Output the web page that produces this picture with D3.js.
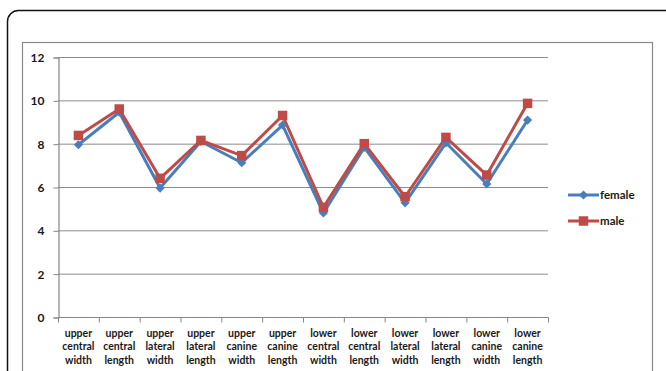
<!DOCTYPE html>
<html>
<head>
<meta charset="utf-8">
<script src="https://cdn.jsdelivr.net/npm/d3@7"></script>
<style>
  html, body { margin: 0; padding: 0; background: #fff; }
  svg { display: block; }
  text { font-family: Lato, "Open Sans", sans-serif; font-weight: bold; fill: #1a1a1a; }
</style>
</head>
<body>
<svg id="chart" width="666" height="371"></svg>
<script>
// Tooth dimension categories (three-line labels)
const categories = [
  ["upper", "central", "width"],
  ["upper", "central", "length"],
  ["upper", "lateral", "width"],
  ["upper", "lateral", "length"],
  ["upper", "canine", "width"],
  ["upper", "canine", "length"],
  ["lower", "central", "width"],
  ["lower", "central", "length"],
  ["lower", "lateral", "width"],
  ["lower", "lateral", "length"],
  ["lower", "canine", "width"],
  ["lower", "canine", "length"]
];
const female = [7.95, 9.45, 5.95, 8.1, 7.12, 8.86, 4.8, 7.83, 5.27, 8.04, 6.14, 9.09];
const male   = [8.38, 9.6, 6.4, 8.15, 7.45, 9.3, 5.06, 8.0, 5.55, 8.29, 6.55, 9.86];
const yTicks = [0, 2, 4, 6, 8, 10, 12];
const seriesNames = ["female", "male"];

const svg = d3.select("#chart");

// Outer rounded panel and inner chart frame
svg.append("rect")
  .attr("x", 7.5).attr("y", 10.5).attr("width", 670).attr("height", 400)
  .attr("rx", 11).attr("fill", "#fff").attr("stroke", "#111").attr("stroke-width", 1.5);
svg.append("rect")
  .attr("x", 22.5).attr("y", 42.5).attr("width", 630).attr("height", 360)
  .attr("fill", "#fff").attr("stroke", "#8a8a8a").attr("stroke-width", 1.2);

const plot = { left: 58, right: 548, top: 57, bottom: 317 };

const x = d3.scaleBand()
  .domain(d3.range(categories.length))
  .range([plot.left, plot.right])
  .paddingInner(0).paddingOuter(0);
const y = d3.scaleLinear().domain([0, 12]).range([plot.bottom, plot.top]);

// Horizontal gridlines
svg.append("g")
  .selectAll("line")
  .data(yTicks.filter(t => t > 0))
  .join("line")
  .attr("x1", plot.left).attr("x2", plot.right)
  .attr("y1", d => y(d) + 0.5).attr("y2", d => y(d) + 0.5)
  .attr("stroke", "#8c8c8c").attr("stroke-width", 1);

// Y axis
const yAxis = svg.append("g")
  .attr("transform", `translate(${plot.left + 0.5},0.5)`)
  .call(d3.axisLeft(y).tickValues(yTicks).tickSize(5).tickPadding(9).tickFormat(d3.format("d")));
yAxis.select(".domain").attr("stroke", "#868686").attr("stroke-width", 1.2);
yAxis.selectAll(".tick line").attr("stroke", "#868686");
yAxis.selectAll(".tick text").style("font-size", "12px").attr("fill", "#1a1a1a");

// X axis with tick marks at category boundaries
const xAxisG = svg.append("g").attr("transform", `translate(0,${plot.bottom + 0.5})`);
xAxisG.append("line")
  .attr("x1", plot.left).attr("x2", plot.right + 0.5)
  .attr("stroke", "#868686").attr("stroke-width", 1.2);
xAxisG.selectAll("line.tk")
  .data(d3.range(categories.length + 1))
  .join("line").attr("class", "tk")
  .attr("x1", i => (i < categories.length ? x(i) : plot.right) + 0.5)
  .attr("x2", i => (i < categories.length ? x(i) : plot.right) + 0.5)
  .attr("y1", 0).attr("y2", 5)
  .attr("stroke", "#868686");
const labels = xAxisG.selectAll("text.cat")
  .data(categories)
  .join("text").attr("class", "cat")
  .attr("text-anchor", "middle")
  .style("font-size", "10.5px")
  .attr("x", (d, i) => x(i) + x.bandwidth() / 2)
  .attr("y", 19);
labels.selectAll("tspan")
  .data(d => d)
  .join("tspan")
  .attr("x", function() { return d3.select(this.parentNode).attr("x"); })
  .attr("dy", (d, i) => i === 0 ? 0 : 13.5)
  .text(d => d);

// Series lines and markers
const colors = { female: "#4a7ebb", male: "#be4b48" };
const line = d3.line()
  .x((d, i) => x(i) + x.bandwidth() / 2)
  .y(d => y(d));

const seriesData = { female, male };
seriesNames.forEach(name => {
  svg.append("path")
    .datum(seriesData[name])
    .attr("d", line)
    .attr("fill", "none")
    .attr("stroke", colors[name])
    .attr("stroke-width", 3)
    .attr("stroke-linejoin", "round");
});

// Diamond = square turned 45 degrees; square markers for the second series
const diamond = d3.symbol().type(d3.symbolSquare).size(42);
const square = d3.symbol().type(d3.symbolSquare).size(90);

svg.append("g").selectAll("path")
  .data(female)
  .join("path")
  .attr("d", diamond)
  .attr("transform", (d, i) => `translate(${x(i) + x.bandwidth() / 2},${y(d)}) rotate(45)`)
  .attr("fill", colors.female);
svg.append("g").selectAll("path")
  .data(male)
  .join("path")
  .attr("d", square)
  .attr("transform", (d, i) => `translate(${x(i) + x.bandwidth() / 2},${y(d)})`)
  .attr("fill", colors.male);

// Legend
const legend = svg.append("g");
seriesNames.forEach((name, k) => {
  const ly = 195 + k * 26;
  const g = legend.append("g");
  g.append("line")
    .attr("x1", 568).attr("x2", 599).attr("y1", ly).attr("y2", ly)
    .attr("stroke", colors[name]).attr("stroke-width", 3);
  g.append("path")
    .attr("d", name === "female" ? diamond : square)
    .attr("transform", `translate(583.5,${ly})` + (name === "female" ? " rotate(45)" : ""))
    .attr("fill", colors[name]);
  g.append("text")
    .attr("x", 600).attr("y", ly + 4)
    .style("font-size", "11.5px")
    .text(name);
});
</script>
</body>
</html>
